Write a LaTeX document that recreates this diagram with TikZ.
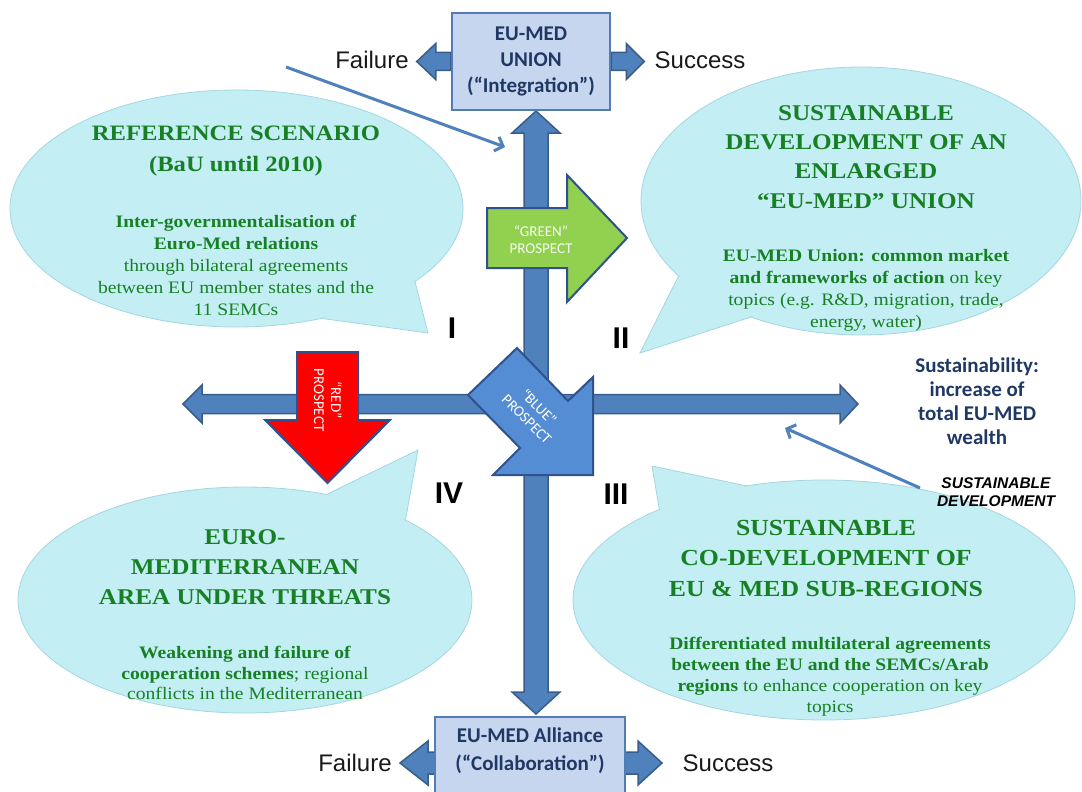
\documentclass[tikz,border=0pt]{standalone}
\usepackage{fontspec}
\setmainfont{Liberation Serif}[FakeStretch=1.12]
\newfontfamily\calib{Carlito}
\newfontfamily\arialf{Liberation Sans}
\usetikzlibrary{arrows.meta,calc}
\definecolor{axisblue}{RGB}{79,129,189}
\definecolor{axisedge}{RGB}{56,93,138}
\definecolor{boxfill}{RGB}{198,214,238}
\definecolor{boxedge}{RGB}{84,124,180}
\definecolor{navy}{RGB}{31,56,100}
\definecolor{bubfill}{RGB}{194,238,244}
\definecolor{bubedge}{RGB}{165,214,224}
\definecolor{txtgreen}{RGB}{24,128,36}
\definecolor{prgreen}{RGB}{146,208,80}
\definecolor{prblue}{RGB}{84,141,212}
\definecolor{predge}{RGB}{47,82,143}
\definecolor{prred}{RGB}{255,0,0}

% bubble: name, cx, cy, rx, ry, angle1, angle2, tipx, tipy
\newcommand\mybubble[9]{%
  \coordinate (#1c) at (#2,#3);
  \coordinate (#1t) at (#8,#9);
  \draw[bubble] (#1c) ellipse [x radius=#4pt, y radius=#5pt];
  \fill[bubfill] ($(#1c)+({#4*cos(#6)},{#5*sin(#6)})$) -- (#1t) -- ($(#1c)+({#4*cos(#7)},{#5*sin(#7)})$) -- cycle;
  \draw[draw=bubedge,line width=0.8pt] ($(#1c)+({#4*cos(#6)},{#5*sin(#6)})$) -- (#1t) -- ($(#1c)+({#4*cos(#7)},{#5*sin(#7)})$);
}
% side block arrow: anchor, dir, shaft length, head length, shaft half, head half
\newcommand\harrow[6]{%
  \draw[blockarrow] ($(#1)+(0,-#5)$) -- ($(#1)+({#2*#3},-#5)$) -- ($(#1)+({#2*#3},-#6)$)
    -- ($(#1)+({#2*(#3+#4)},0)$) -- ($(#1)+({#2*#3},#6)$) -- ($(#1)+({#2*#3},#5)$) -- ($(#1)+(0,#5)$) -- cycle;
}

\begin{document}
\begin{tikzpicture}[x=1pt,y=-1pt,
  bubble/.style={fill=bubfill,draw=bubedge,line width=0.8pt},
  blockarrow/.style={fill=axisblue,draw=axisedge,line width=1.5pt,line join=miter},
  prospect/.style={draw=predge,line width=2pt,line join=miter},
  boxstyle/.style={fill=boxfill,draw=boxedge,line width=2.5pt,minimum width=158pt,inner sep=0pt},
  boxtxt/.style={text=navy,font=\calib\bfseries\fontsize{21}{26}\selectfont,align=center,inner sep=0pt},
  headtxt/.style={text=txtgreen,font=\bfseries\fontsize{22}{31}\selectfont,align=center,inner sep=0pt},
  bodytxt/.style={text=txtgreen,font=\fontsize{17.5}{22}\selectfont,align=center,inner sep=0pt},
  fstxt/.style={font=\arialf\fontsize{24}{24}\selectfont,text=black!90,inner sep=0pt},
  numtxt/.style={font=\arialf\bfseries\fontsize{30}{30}\selectfont,inner sep=0pt},
  prtxt/.style={font=\calib\fontsize{15}{17}\selectfont,align=center,inner sep=0pt},
  thinarrow/.style={draw=axisblue,line width=3pt,-{Straight Barb[length=7pt,width=15pt]}}
]
\useasboundingbox (0,0) rectangle (1082,792);

% ---- speech bubbles ----
\mybubble{b1}{236.5}{208.5}{226.5}{118.5}{38}{68}{428}{333}
\mybubble{b2}{861}{201}{220}{134}{120}{146}{640}{353}
\mybubble{b4}{245}{600}{227}{113}{-69}{-45}{418}{450}
\mybubble{b3}{824}{600}{251}{120}{-131}{-108}{652}{466}

% ---- bubble texts ----
\node[headtxt] (h1) at (236,151) {REFERENCE SCENARIO\\(BaU until 2010)};
\node[bodytxt] (t1) at (236,265) {\textbf{Inter-governmentalisation of}\\\textbf{Euro-Med relations}\\through bilateral agreements\\between EU member states and the\\11 SEMCs};

\node[headtxt,font=\bfseries\fontsize{22.5}{29.3}\selectfont] (h2) at (866,157) {SUSTAINABLE\\DEVELOPMENT OF AN\\ENLARGED\\“EU-MED” UNION};
\node[bodytxt] (t2) at (866,290) {\textbf{EU-MED Union: common market}\\\textbf{and frameworks of action} on key\\topics (e.g. R\&D, migration, trade,\\energy, water)};

\node[headtxt,font=\bfseries\fontsize{22.5}{30}\selectfont] (h4) at (245,567) {EURO-\\MEDITERRANEAN\\AREA UNDER THREATS};
\node[bodytxt,font=\fontsize{17.5}{20.7}\selectfont] (t4) at (245,673) {\textbf{Weakening and failure of}\\\textbf{cooperation schemes}; regional\\conflicts in the Mediterranean};

\node[headtxt,font=\bfseries\fontsize{23}{30.5}\selectfont] (h3) at (826,558) {SUSTAINABLE\\CO-DEVELOPMENT OF\\EU \& MED SUB-REGIONS};
\node[bodytxt,font=\fontsize{17.5}{21}\selectfont] (t3) at (830,677) {\textbf{Differentiated multilateral agreements}\\\textbf{between the EU and the SEMCs/Arab}\\\textbf{regions} to enhance cooperation on key\\topics};

% ---- thin pointer arrows ----
\coordinate (p1s) at (286,67);
\coordinate (p1e) at (505,147);
\coordinate (p2s) at (920,488);
\coordinate (p2e) at (785,428);
\draw[thinarrow] (p1s) -- (p1e);
\draw[thinarrow] (p2s) -- (p2e);

% ---- boxes (named first, drawn later) ----
\path (531,61.5) coordinate (topc);
\path (530,758.5) coordinate (botc);

% ---- axes ----
\coordinate (hl) at (183,404);
\coordinate (hr) at (858,404);
\draw[blockarrow] (hl) -- ($(hl)+(19,-19)$) -- ($(hl)+(19,-9.5)$) -- ($(hr)+(-18,-9.5)$) -- ($(hr)+(-18,-19)$)
  -- (hr) -- ($(hr)+(-18,19)$) -- ($(hr)+(-18,9.5)$) -- ($(hl)+(19,9.5)$) -- ($(hl)+(19,19)$) -- cycle;

\coordinate (vt) at (536,111);
\coordinate (vb) at (536,714);
\draw[blockarrow] (vt) -- ($(vt)+(24,22)$) -- ($(vt)+(12,22)$) -- ($(vb)+(12,-22)$) -- ($(vb)+(24,-22)$)
  -- (vb) -- ($(vb)+(-24,-22)$) -- ($(vb)+(-12,-22)$) -- ($(vt)+(-12,22)$) -- ($(vt)+(-24,22)$) -- cycle;

% ---- prospects ----
\draw[prospect,fill=prgreen] (487,208) -- (567,208) -- (567,175) -- (627,238) -- (567,302) -- (567,268) -- (487,268) -- cycle;
\node[prtxt,text=white!92!prgreen] (gp) at (541,240) {“GREEN”\\PROSPECT};

\draw[prospect,fill=prred] (297,352) -- (358,352) -- (358,420) -- (390,420) -- (327.5,483) -- (265,420) -- (297,420) -- cycle;
\node[prtxt,text=white,rotate=-90] (rp) at (328,400) {“RED”\\PROSPECT};

\draw[prospect,fill=prblue] (468,395) -- (517,348) -- (568,401) -- (593,377) -- (593,475) -- (493,475) -- (520,448) -- cycle;
\node[prtxt,text=white,rotate=-45] (bp) at (533,413) {“BLUE”\\PROSPECT};

% ---- top and bottom boxes with side arrows ----
\node[boxstyle,minimum height=97pt] (top) at (topc) {};
\harrow{top.west}{-1}{15}{19}{9}{18}
\harrow{top.east}{1}{15}{18}{9}{18}
\node[boxstyle,minimum height=97pt] at (topc) {};
\node[boxtxt] (toptxt) at (top.center) {EU-MED\\UNION\\(“Integration”)};

\coordinate (bw) at (435,763);
\coordinate (be) at (625,763);
\harrow{bw}{-1}{7}{28}{11}{22}
\harrow{be}{1}{13}{24}{11}{22}
\node[boxstyle,minimum width=190pt,minimum height=83pt] (bot) at (botc) {};
\node[boxtxt,font=\calib\bfseries\fontsize{21}{28}\selectfont] (bottxt) at (530,751) {EU-MED Alliance\\(“Collaboration”)};

\node[fstxt] (f1) at (372,60) {Failure};
\node[fstxt] (s1) at (700,60) {Success};
\node[fstxt] (f2) at (355,763) {Failure};
\node[fstxt] (s2) at (728,763) {Success};

% ---- quadrant numerals ----
\node[numtxt] (q1) at (452,328) {I};
\node[numtxt] (q2) at (621,338) {II};
\node[numtxt] (q4) at (449,493) {IV};
\node[numtxt] (q3) at (616,494) {III};

% ---- right labels ----
\node[text=navy,font=\calib\bfseries\fontsize{21}{24}\selectfont,align=center,inner sep=0pt] (sus) at (977,401) {Sustainability:\\increase of\\total EU-MED\\wealth};
\node[font=\arialf\bfseries\itshape\fontsize{15.5}{18}\selectfont,align=center,inner sep=0pt] (sd) at (996,492) {SUSTAINABLE\\DEVELOPMENT};
\end{tikzpicture}
\end{document}
